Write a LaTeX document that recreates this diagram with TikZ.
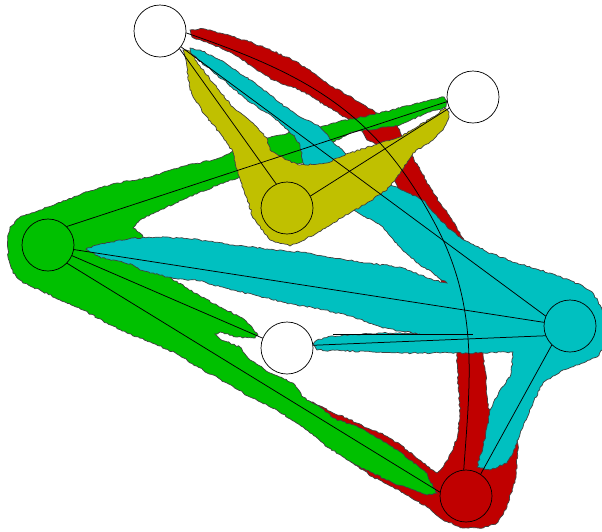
\documentclass[tikz,border=0pt]{standalone}
\usetikzlibrary{decorations.pathmorphing}
\definecolor{bred}{RGB}{192,0,0}
\definecolor{bgreen}{RGB}{0,192,0}
\definecolor{bcyan}{RGB}{0,192,192}
\definecolor{byellow}{RGB}{192,192,0}
\pgfdeclarelayer{bg}
\pgfdeclarelayer{mid}
\pgfsetlayers{bg,mid,main}
\begin{document}
\begin{tikzpicture}[x=1pt,y=-1pt,
  region/.style={draw=black!75, line width=0.7pt, decorate,
    decoration={random steps, segment length=2.5pt, amplitude=0.8pt}},
  vert/.style={circle, draw=black, line width=0.7pt, minimum size=52pt, inner sep=0pt, outer sep=0pt},
  link/.style={draw=black, line width=0.75pt}]
\useasboundingbox (0,0) rectangle (602,531);
\pgfmathsetseed{7}
% nodes
\node[vert, fill=white] (A) at (160,31) {};
\node[vert, fill=white] (B) at (473,97) {};
\node[vert, fill=byellow] (C) at (287,208) {};
\node[vert, fill=bgreen] (D) at (48,245) {};
\node[vert, fill=white] (E) at (287,348) {};
\node[vert, fill=bcyan] (F) at (570,326) {};
\node[vert, fill=bred] (G) at (466,496) {};
\coordinate (m) at (433,220);
\coordinate (s1) at (333,334);
\coordinate (s2) at (473,334);
\begin{pgfonlayer}{bg}
% red
\path[region, fill=bred] (190,30) -- (205,29) -- (220,33) -- (253,43) -- (287,57) -- (310,70) -- (320,78) -- (333,87) -- (353,98) -- (367,107) -- (380,115) -- (397,125) -- (402,137) -- (410,153) -- (420,170) -- (430,187) -- (440,203) -- (450,217) -- (457,228) -- (462,237) -- (472,262) -- (480,300) -- (484,335) -- (483,353) -- (486,380) -- (488,408) -- (500,418) -- (515,432) -- (518,445) -- (517,465) -- (515,480) -- (507,507) -- (497,523) -- (483,528) -- (463,528) -- (443,520) -- (427,507) -- (410,497) -- (393,487) -- (373,477) -- (353,463) -- (333,447) -- (307,427) -- (293,420) -- (291,410) -- (300,403) -- (313,402) -- (333,413) -- (347,418) -- (367,428) -- (380,433) -- (393,440) -- (407,450) -- (423,463) -- (437,473) -- (443,467) -- (453,450) -- (458,433) -- (460,413) -- (458,380) -- (457,353) -- (450,320) -- (441,280) -- (430,250) -- (415,215) -- (400,192) -- (390,170) -- (377,145) -- (367,140) -- (360,125) -- (350,120) -- (333,110) -- (317,100) -- (300,90) -- (273,80) -- (253,67) -- (230,52) -- (207,42) -- (192,37) -- cycle;
% green
\path[region, fill=bgreen] (8,235) -- (10,227) -- (20,217) -- (40,210) -- (67,200) -- (83,193) -- (117,183) -- (150,177) -- (180,167) -- (213,160) -- (237,150) -- (267,138) -- (280,135) -- (297,131) -- (320,127) -- (333,123) -- (367,116) -- (400,108) -- (417,103) -- (435,99) -- (444,97) -- (447,101) -- (446,107) -- (430,112) -- (417,117) -- (400,125) -- (367,130) -- (350,133) -- (333,142) -- (303,163) -- (270,170) -- (240,177) -- (213,187) -- (187,198) -- (160,210) -- (140,220) -- (133,228) -- (140,233) -- (145,240) -- (155,255) -- (165,270) -- (172,279) -- (187,288) -- (200,296) -- (217,305) -- (240,317) -- (250,325) -- (258,335) -- (255,338) -- (237,337) -- (220,332) -- (215,334) -- (220,339) -- (240,347) -- (245,354) -- (250,360) -- (270,373) -- (293,383) -- (303,397) -- (320,407) -- (333,418) -- (360,428) -- (377,438) -- (393,447) -- (410,460) -- (427,473) -- (433,487) -- (437,493) -- (427,495) -- (393,483) -- (360,467) -- (327,447) -- (303,427) -- (277,410) -- (250,397) -- (227,383) -- (203,370) -- (177,354) -- (160,346) -- (147,341) -- (127,333) -- (107,323) -- (83,310) -- (60,300) -- (40,290) -- (23,283) -- (13,273) -- (8,257) -- cycle;
% cyan
\path[region, fill=bcyan] (190,48) -- (200,50) -- (220,60) -- (237,71) -- (260,87) -- (270,95) -- (280,103) -- (297,115) -- (320,127) -- (327,134) -- (333,142) -- (340,148) -- (350,157) -- (370,175) -- (380,183) -- (397,187) -- (423,200) -- (447,227) -- (460,237) -- (487,252) -- (517,263) -- (550,273) -- (583,286) -- (593,293) -- (600,305) -- (606,320) -- (606,345) -- (597,357) -- (583,363) -- (563,370) -- (543,383) -- (533,403) -- (523,427) -- (517,443) -- (513,453) -- (507,463) -- (490,470) -- (477,467) -- (483,447) -- (487,427) -- (490,410) -- (500,390) -- (510,377) -- (513,357) -- (513,352) -- (483,353) -- (440,353) -- (400,353) -- (373,352) -- (317,350) -- (313,344) -- (317,340) -- (333,336) -- (383,333) -- (410,333) -- (420,334) -- (400,331) -- (383,328) -- (367,322) -- (350,316) -- (333,312) -- (317,308) -- (300,306) -- (267,298) -- (233,290) -- (200,281) -- (167,277) -- (140,270) -- (133,265) -- (100,257) -- (90,252) -- (86,249) -- (97,245) -- (133,238) -- (167,237) -- (200,240) -- (233,245) -- (267,249) -- (300,252) -- (367,263) -- (400,267) -- (433,280) -- (447,283) -- (433,273) -- (417,263) -- (400,247) -- (383,227) -- (357,212) -- (330,190) -- (303,163) -- (300,145) -- (293,135) -- (280,123) -- (267,113) -- (247,100) -- (227,83) -- (207,67) -- (190,53) -- cycle;
% yellow
\path[region, fill=byellow] (183,50) -- (190,51) -- (200,66) -- (217,88) -- (233,107) -- (253,123) -- (267,138) -- (270,150) -- (287,160) -- (300,165) -- (327,163) -- (337,158) -- (350,153) -- (380,143) -- (400,137) -- (417,127) -- (433,117) -- (445,108) -- (449,112) -- (448,120) -- (443,130) -- (433,140) -- (413,153) -- (397,177) -- (387,190) -- (367,203) -- (350,213) -- (333,223) -- (317,233) -- (300,242) -- (290,246) -- (270,240) -- (253,218) -- (247,198) -- (238,174) -- (233,152) -- (220,133) -- (203,113) -- (190,90) -- (187,67) -- cycle;
\end{pgfonlayer}
\begin{pgfonlayer}{mid}
\draw[link] (A.-42) -- (C.114);
\draw[link] (C.27) -- (B.205);
\draw[link] (A.-37) -- (F.158);
\draw[link] (D.45) -- (B.190);
\draw[link] (D.-10) -- (F.172);
\draw[link] (D.-24) -- (E.158);
\draw[link] (D.-44) -- (G.172);
\draw[link] (E.6) -- (F.202);
\draw[link] (F.226) -- (G.56);
\draw[link] (s1) -- (s2);
\draw[link] (A.-4) .. controls (305,74) and (374,110) .. (m) .. controls (480,305) and (470,380) .. (G.95);
\end{pgfonlayer}
\end{tikzpicture}
\end{document}
